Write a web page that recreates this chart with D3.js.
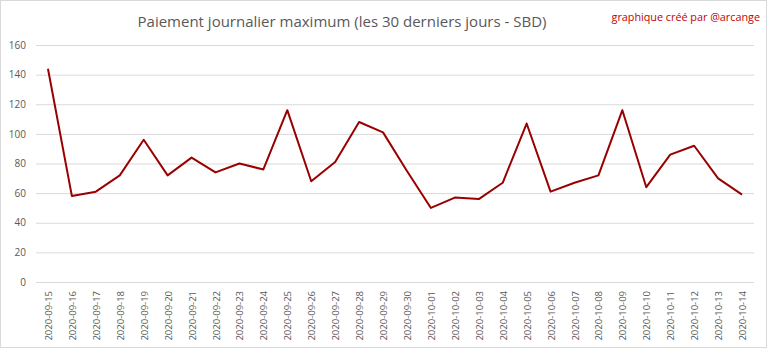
<!DOCTYPE html>
<html>
<head>
<meta charset="utf-8">
<script src="https://cdn.jsdelivr.net/npm/d3@7"></script>
<style>
  html, body { margin: 0; padding: 0; background: #fff; }
  svg { display: block; }
</style>
</head>
<body>
<svg id="chart" width="768" height="349"></svg>
<script>
// Daily maximum payout over the last 30 days (SBD)
const dates = [
  "2020-09-15","2020-09-16","2020-09-17","2020-09-18","2020-09-19","2020-09-20",
  "2020-09-21","2020-09-22","2020-09-23","2020-09-24","2020-09-25","2020-09-26",
  "2020-09-27","2020-09-28","2020-09-29","2020-09-30","2020-10-01","2020-10-02",
  "2020-10-03","2020-10-04","2020-10-05","2020-10-06","2020-10-07","2020-10-08",
  "2020-10-09","2020-10-10","2020-10-11","2020-10-12","2020-10-13","2020-10-14"
];
const payouts = [
  144, 58, 61, 72, 96, 72,
  84, 74, 80, 76, 116, 68,
  81, 108, 101, 75, 50, 57,
  56, 67, 107, 61, 67, 72,
  116, 64, 86, 92, 70, 59
];
const yTicks = [0, 20, 40, 60, 80, 100, 120, 140, 160];

const svg = d3.select("#chart");
const W = 768, H = 349;
const plot = { left: 36, right: 754, top: 45, bottom: 282 };

// chart frame
svg.append("rect")
  .attr("x", 0.5).attr("y", 0.5)
  .attr("width", W - 2).attr("height", H - 2)
  .attr("fill", "#fff").attr("stroke", "#d9d9d9");

const x = d3.scaleBand().domain(dates).range([plot.left, plot.right]);
const y = d3.scaleLinear().domain([0, 160]).range([plot.bottom, plot.top]);

// horizontal gridlines + y labels
const yAxis = d3.axisLeft(y).tickValues(yTicks)
  .tickSize(-(plot.right - plot.left)).tickPadding(10);
const gy = svg.append("g").attr("transform", `translate(${plot.left},0)`).call(yAxis);
gy.select(".domain").remove();
gy.selectAll(".tick line").attr("stroke", "#d9d9d9").attr("stroke-width", 1);
gy.selectAll(".tick text")
  .attr("fill", "#595959").attr("font-family", "'Open Sans', sans-serif")
  .attr("font-size", 10);

// x labels, rotated
const xAxis = d3.axisBottom(x).tickSize(0).tickPadding(0);
const gx = svg.append("g").attr("transform", `translate(0,${plot.bottom})`).call(xAxis);
gx.select(".domain").remove();
gx.selectAll(".tick text")
  .attr("fill", "#595959").attr("font-family", "'Open Sans', sans-serif")
  .attr("font-size", 9.5)
  .attr("text-anchor", "end")
  .attr("dy", null).attr("y", 0)
  .attr("transform", "translate(4,9) rotate(-90)");

// the line
const line = d3.line()
  .x((d, i) => x(dates[i]) + x.bandwidth() / 2)
  .y(d => y(d));
svg.append("path")
  .datum(payouts)
  .attr("d", line)
  .attr("fill", "none")
  .attr("stroke", "#990000")
  .attr("stroke-width", 2)
  .attr("stroke-linejoin", "round");

// title
svg.append("text")
  .attr("x", 342).attr("y", 27)
  .attr("text-anchor", "middle")
  .attr("fill", "#595959")
  .attr("font-family", "'Open Sans', sans-serif")
  .attr("font-size", 15)
  .text("Paiement journalier maximum (les 30 derniers jours - SBD)");

// credit
svg.append("text")
  .attr("x", 760).attr("y", 21)
  .attr("text-anchor", "end")
  .attr("fill", "#c00000")
  .attr("font-family", "'Open Sans', sans-serif")
  .attr("font-size", 10.8)
  .text("graphique créé par @arcange");
</script>
</body>
</html>
